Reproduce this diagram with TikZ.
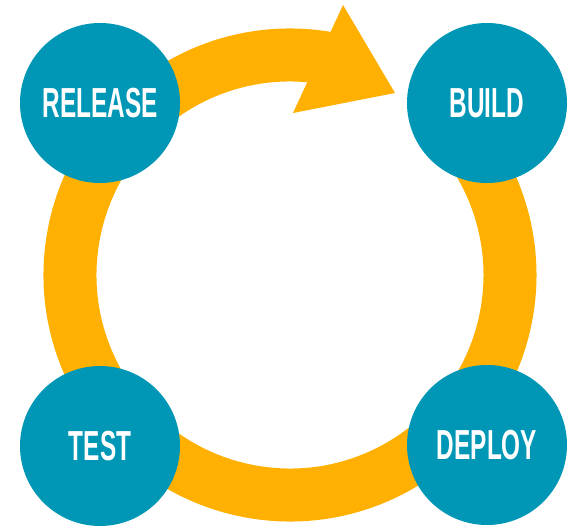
\documentclass[tikz,border=0pt]{standalone}
\usepackage{fontspec}
\newfontfamily\stagefont[FakeStretch=0.58]{Liberation Sans}
\usepackage{tikz}
\usepackage{xcolor}
\definecolor{stageblue}{HTML}{0097B7}
\definecolor{looporange}{HTML}{FFB000}

\begin{document}
\begin{tikzpicture}[x=1pt, y=1pt,
    stage/.style={circle, fill=stageblue, minimum size=160pt, inner sep=0pt,
      text=white, font=\stagefont\bfseries\fontsize{42}{42}\selectfont}]
        \useasboundingbox (0,0) rectangle (575,528);
        % Kreislauf
        \draw[looporange, line width=53pt] ([shift={(290,253)}]80:220pt)
          arc[start angle=80, end angle=405, radius=220pt];
        \fill[looporange] (343,523)--(395,435)--(293,415)--cycle;
        \foreach \x/\y/\name/\txt in {
          100/425/release/RELEASE, 487/425/build/BUILD,
          100/82/test/TEST, 487/83/deploy/DEPLOY}{
          \node[stage] (\name) at (\x,\y) {\txt};
        }
      \end{tikzpicture}
\end{document}
